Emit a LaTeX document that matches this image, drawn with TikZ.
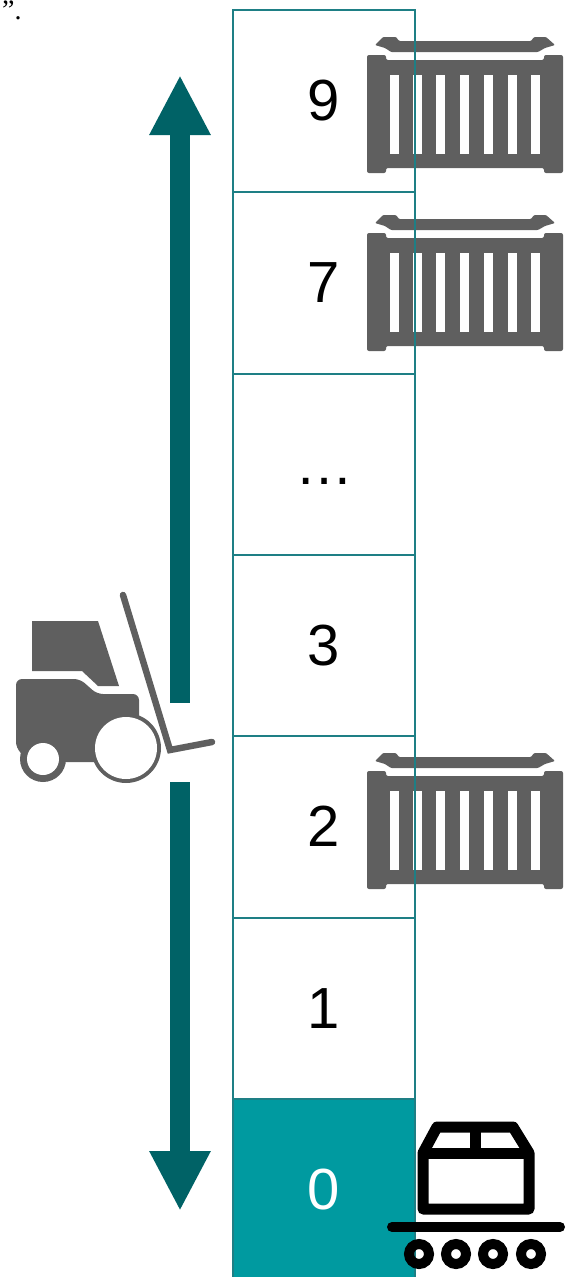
\documentclass[tikz,border=0pt]{standalone}
\usepackage{fontspec}
\setmainfont{Liberation Sans}
\newfontfamily\notefont{Liberation Serif}
\usetikzlibrary{arrows.meta}
\definecolor{darkteal}{HTML}{006266}
\definecolor{midteal}{HTML}{1E7F85}
\definecolor{brightteal}{HTML}{009AA0}
\definecolor{icongray}{HTML}{5F5F5F}
\tikzset{
	cell/.style={draw=midteal,line width=2pt,minimum width=182pt,minimum height=181.5pt,inner sep=0pt,outer sep=0pt,font=\fontsize{58}{58}\selectfont},
	liftarrow/.style={draw=darkteal,line width=20pt,-{Triangle[length=60pt,width=57pt]}},
	containericon/.pic={
		\fill[icongray,rounded corners=1pt] (8,8) -- (16,0) -- (29,0) -- (32,4) -- (164,4) -- (167,0) -- (179,0) -- (188,8) -- (178,11) -- (171,15) -- (24,15) -- (18,11) -- cycle;
		\fill[icongray,rounded corners=2pt] (0,18) -- (19,18) -- (19,23) -- (177,23) -- (177,18) -- (196,18) -- (196,136) -- (177,136) -- (177,131) -- (19,131) -- (19,136) -- (0,136) -- cycle;
		\fill[white] (22.5,38) rectangle (31.5,117);
		\fill[white] (46,38) rectangle (55,117);
		\fill[white] (69,38) rectangle (78,117);
		\fill[white] (93,38) rectangle (102,117);
		\fill[white] (117,38) rectangle (126,117);
		\fill[white] (140.5,38) rectangle (149.5,117);
		\fill[white] (164,38) rectangle (173,117);
	}
}
\begin{document}
\begin{tikzpicture}[x=1pt,y=-1pt]
	\useasboundingbox (0,0) rectangle (573,1277);
	\node[anchor=base west,inner sep=0pt,font=\notefont\fontsize{28}{28}\selectfont] (note) at (2,19) {”.};

	\pic at (367,37) {containericon};
	\pic at (367,215) {containericon};
	\pic at (367,753) {containericon};

	\node[cell] (nine) at (324,101) {\vphantom{0}9};
	\node[cell] (seven) at (324,283) {\vphantom{0}7};
	\node[cell] (dots) at (324,464.5) {\vphantom{0}…};
	\node[cell] (three) at (324,645.5) {\vphantom{0}3};
	\node[cell] (two) at (324,827) {\vphantom{0}2};
	\node[cell] (one) at (324,1008.5) {\vphantom{0}1};
	\node[cell,fill=brightteal,text=white] (zero) at (324,1190) {\vphantom{0}0};

	\coordinate (uptail) at (180,703);
	\coordinate (uptip) at (180,75);
	\coordinate (downtail) at (180,782);
	\coordinate (downtip) at (180,1211);
	\draw[liftarrow] (uptail) -- (uptip);
	\draw[liftarrow] (downtail) -- (downtip);

	\fill[icongray] (32,621) -- (98,621) -- (119,686) -- (98,686) -- (82,671) -- (32,671) -- cycle;
	\fill[icongray,rounded corners=6pt] (30,762) -- (16,748) -- (16,679) -- (80,679) -- (97,694) -- (139,694) -- (139,730) -- (126,762) -- cycle;
	\fill[icongray] (126,748) circle (35);
	\fill[icongray] (43,759) circle (23);
	\fill[white] (126,748) circle (31);
	\fill[white] (43,759) circle (16);
	\draw[icongray,line width=6.5pt,line cap=round] (123,595) -- (170,750) -- (212,742);

	\draw[black,line width=11pt,line join=round] (423,1153) -- (437,1127) -- (513,1127) -- (529,1153) -- (529,1209) -- (423,1209) -- cycle;
	\draw[black,line width=11pt] (423,1153) -- (529,1153);
	\draw[black,line width=11pt] (475,1127) -- (475,1153);
	\draw[black,line width=10pt,line cap=round] (392,1227) -- (560,1227);
	\draw[black,line width=10pt] (419,1254) circle (10);
	\draw[black,line width=10pt] (456,1254) circle (10);
	\draw[black,line width=10pt] (493,1254) circle (10);
	\draw[black,line width=10pt] (531,1254) circle (10);
\end{tikzpicture}
\end{document}
